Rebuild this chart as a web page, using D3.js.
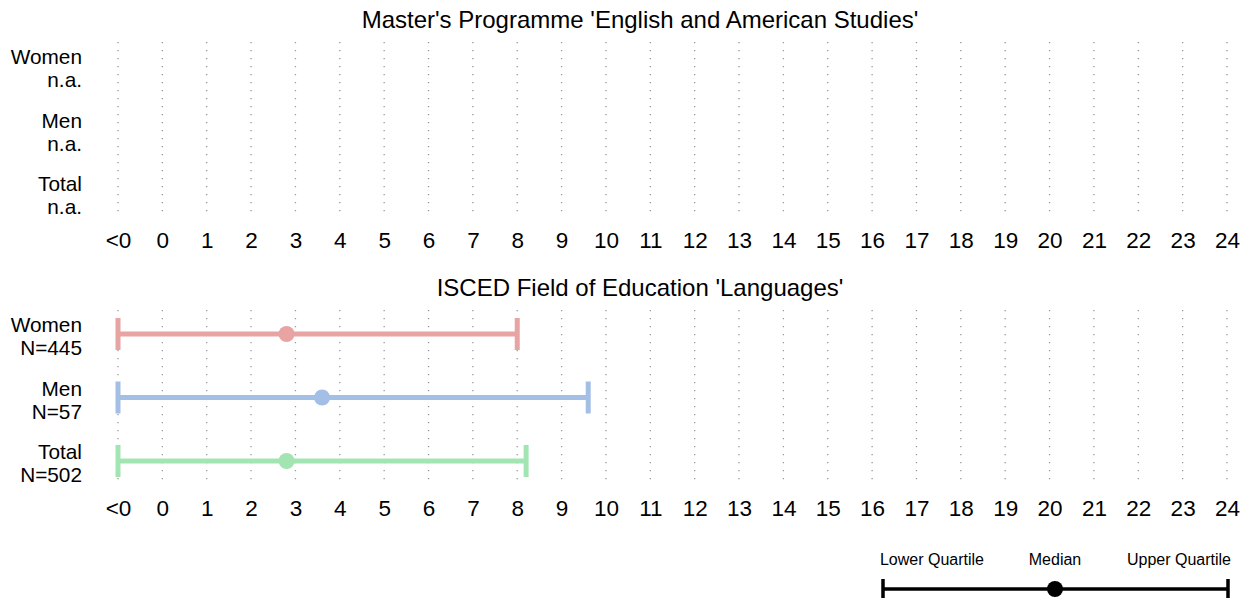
<!DOCTYPE html>
<html>
<head>
<meta charset="utf-8">
<script src="https://cdn.jsdelivr.net/npm/d3@7"></script>
<style>
  body { margin: 0; background: #fff; }
  svg { display: block; font-family: "Liberation Sans", Arial, Helvetica, sans-serif; }
</style>
</head>
<body>
<div id="chart"></div>
<script>
// tick labels of the x axis
const tickLabels = ["<0", "0", "1", "2", "3", "4", "5", "6", "7", "8", "9", "10", "11", "12",
  "13", "14", "15", "16", "17", "18", "19", "20", "21", "22", "23", "24"];
const tickValues = d3.range(-1, 25);  // "<0" sits at -1

const groups = ["Women", "Men", "Total"];
const groupColors = ["#e8a3a3", "#a3bfe6", "#a3e4b3"];

// panel 1: no data
const panel1Title = "Master's Programme 'English and American Studies'";
const panel1N = ["n.a.", "n.a.", "n.a."];
const panel1Lower = [null, null, null];
const panel1Median = [null, null, null];
const panel1Upper = [null, null, null];

// panel 2
const panel2Title = "ISCED Field of Education 'Languages'";
const panel2N = ["N=445", "N=57", "N=502"];
const panel2Lower = [-1, -1, -1];
const panel2Median = [2.8, 3.6, 2.8];
const panel2Upper = [8.0, 9.6, 8.2];

const legendLabels = ["Lower Quartile", "Median", "Upper Quartile"];

const width = 1252, height = 598;

const svg = d3.select("#chart").append("svg")
    .attr("width", width)
    .attr("height", height);

const x = d3.scaleLinear().domain([-1, 24]).range([118, 1227]);

const panels = [
  { title: panel1Title, n: panel1N, lower: panel1Lower, median: panel1Median, upper: panel1Upper, top: 0 },
  { title: panel2Title, n: panel2N, lower: panel2Lower, median: panel2Median, upper: panel2Upper, top: 268 }
];

panels.forEach(p => {
  const g = svg.append("g").attr("transform", `translate(0,${p.top})`);

  g.append("text")
      .attr("x", 640).attr("y", 28)
      .attr("text-anchor", "middle")
      .attr("font-size", 24)
      .attr("fill", "#000")
      .text(p.title);

  const y = d3.scalePoint().domain(groups).range([66, 193]);

  // dotted grid
  g.selectAll(".grid")
    .data(tickValues)
    .join("line")
      .attr("class", "grid")
      .attr("x1", d => x(d)).attr("x2", d => x(d))
      .attr("y1", 42).attr("y2", 218)
      .attr("stroke", "#999")
      .attr("stroke-width", 1.3)
      .attr("stroke-dasharray", "1.3,6.7");

  // x axis labels
  const axis = d3.axisBottom(x)
      .tickValues(tickValues)
      .tickFormat((d, i) => tickLabels[i])
      .tickSize(0)
      .tickPadding(0);
  const ax = g.append("g").attr("transform", "translate(0,232)").call(axis);
  ax.select(".domain").remove();
  ax.selectAll("text")
      .attr("font-size", 22.5)
      .attr("fill", "#000")
      .attr("font-family", "Liberation Sans, Arial, sans-serif");

  // row labels
  groups.forEach((grp, i) => {
    const t = g.append("text")
        .attr("x", 82)
        .attr("text-anchor", "end")
        .attr("font-size", 20.8)
        .attr("fill", "#000");
    t.append("tspan").attr("x", 82).attr("y", y(grp) - 2).text(grp);
    t.append("tspan").attr("x", 82).attr("y", y(grp) + 21).text(p.n[i]);
  });

  // quartile bars
  groups.forEach((grp, i) => {
    if (p.median[i] == null) return;
    const cy = y(grp);
    const col = groupColors[i];
    g.append("line")
        .attr("x1", x(p.lower[i])).attr("x2", x(p.upper[i]))
        .attr("y1", cy).attr("y2", cy)
        .attr("stroke", col).attr("stroke-width", 5);
    [p.lower[i], p.upper[i]].forEach(v => {
      g.append("line")
          .attr("x1", x(v)).attr("x2", x(v))
          .attr("y1", cy - 16).attr("y2", cy + 16)
          .attr("stroke", col).attr("stroke-width", 5);
    });
    g.append("circle")
        .attr("cx", x(p.median[i])).attr("cy", cy)
        .attr("r", 8)
        .attr("fill", col);
  });
});

// legend
const lg = svg.append("g");
const ly = 589;
lg.append("line")
    .attr("x1", 883).attr("x2", 1228)
    .attr("y1", ly).attr("y2", ly)
    .attr("stroke", "#000").attr("stroke-width", 3.5);
[883, 1228].forEach(v => {
  lg.append("line")
      .attr("x1", v).attr("x2", v)
      .attr("y1", ly - 10).attr("y2", ly + 10)
      .attr("stroke", "#000").attr("stroke-width", 3.5);
});
lg.append("circle").attr("cx", 1055).attr("cy", ly).attr("r", 8).attr("fill", "#000");
const legendX = [932, 1055, 1179];
legendLabels.forEach((lab, i) => {
  lg.append("text")
      .attr("x", legendX[i]).attr("y", 565)
      .attr("text-anchor", "middle")
      .attr("font-size", 16)
      .attr("fill", "#000")
      .text(lab);
});
</script>
</body>
</html>
